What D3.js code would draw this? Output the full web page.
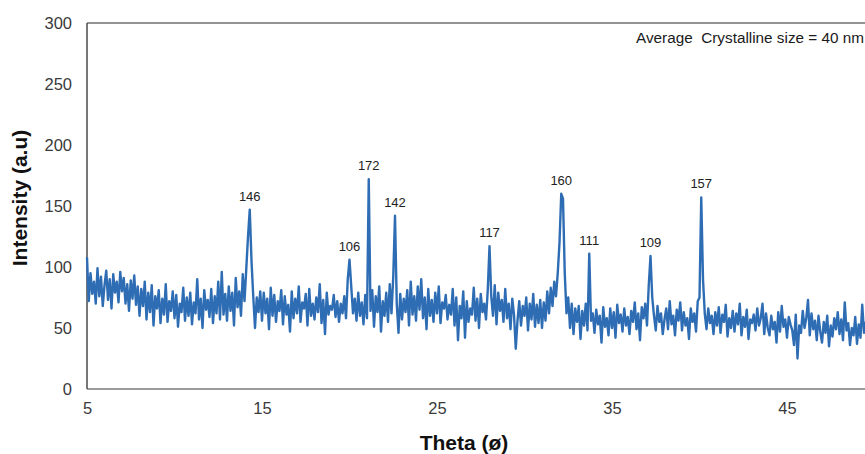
<!DOCTYPE html>
<html>
<head>
<meta charset="utf-8">
<script src="https://cdn.jsdelivr.net/npm/d3@7"></script>
<style>
  html, body { margin: 0; padding: 0; background: #fff; }
  svg { display: block; }
  text { font-family: Arial, "Liberation Sans", sans-serif; }
</style>
</head>
<body>
<svg id="chart" width="865" height="454"></svg>
<script>
// ---- data ----
const thetaStart = 5.0;
const thetaStep = 0.1;
const intensity = [
  108, 72, 95, 78, 88, 70, 99, 76, 92, 68,
  85, 97, 73, 90, 66, 94, 79, 88, 71, 96,
  80, 91, 70, 86, 64, 89, 74, 93, 69, 84,
  60, 82, 68, 88, 57, 79, 63, 85, 52, 76,
  66, 81, 54, 74, 61, 86, 55, 72, 64, 80,
  58, 77, 51, 70, 63, 83, 56, 75, 60, 79,
  53, 71, 62, 90, 57, 74, 50, 81, 65, 73,
  59, 82, 54, 76, 62, 88, 57, 96, 61, 78,
  56, 84, 64, 79, 52, 91, 67, 80, 60, 94,
  72, 98, 125, 147, 105, 76, 50, 75, 63, 80,
  56, 79, 62, 74, 49, 83, 60, 77, 55, 72,
  64, 81, 53, 76, 61, 69, 47, 80, 58, 74,
  62, 84, 55, 71, 66, 78, 52, 82, 60, 70,
  57, 75, 63, 86, 54, 73, 45, 79, 61, 68,
  65, 77, 59, 72, 55, 70, 62, 76, 58, 90,
  106, 84, 62, 74, 56, 79, 60, 71, 53, 77,
  58, 172, 64, 81, 51, 76, 63, 84, 47, 72,
  60, 79, 55, 86, 62, 92, 142, 70, 46, 78,
  57, 74, 63, 81, 52, 88, 61, 76, 56, 84,
  65, 90, 58, 75, 49, 82, 60, 73, 55, 79,
  62, 84, 54, 71, 66, 77, 57, 69, 61, 82,
  52, 75, 40, 68, 58, 80, 42, 72, 55, 66,
  61, 83, 56, 74, 50, 78, 63, 70, 57, 81,
  117, 76, 60, 85, 53, 79, 64, 73, 55, 82,
  58, 70, 49, 74, 61, 33, 56, 72, 52, 68,
  60, 75, 48, 70, 57, 78, 51, 69, 54, 73,
  50, 71, 56, 80, 62, 83, 68, 88, 76, 95,
  120, 160, 156, 95, 62, 75, 50, 70, 45, 66,
  55, 68, 41, 64, 52, 70, 48, 111, 56, 62,
  46, 65, 53, 60, 38, 67, 51, 58, 44, 66,
  50, 63, 42, 69, 54, 61, 47, 66, 52, 59,
  45, 64, 55, 71, 49, 62, 40, 67, 58, 70,
  52, 85, 109, 75, 60, 48, 68, 55, 62, 45,
  57, 66, 49, 72, 53, 60, 44, 65, 56, 71,
  48, 63, 52, 58, 41, 66, 55, 62, 47, 72,
  75, 157, 90, 62, 49, 66, 54, 60, 45, 63,
  52, 67, 46, 61, 55, 69, 43, 58, 50, 64,
  47, 62, 53, 70, 44, 59, 51, 65, 41, 57,
  54, 61, 48, 66, 52, 58, 70, 45, 62, 50,
  44, 60, 49, 55, 38, 63, 47, 68, 51, 57,
  42, 59, 53, 48, 36, 61, 25, 52, 46, 64,
  50, 58, 73, 44, 62, 49, 56, 40, 60, 47,
  38, 55, 46, 60, 35, 52, 43, 58, 49, 63,
  45, 57, 40, 71, 48, 54, 36, 50, 44, 59,
  37, 53, 42, 69, 46, 55
];
const peakTheta = [14.3, 20.0, 21.1, 22.6, 28.0, 32.1, 33.7, 37.2, 40.1];
const peakLabels = ["146", "106", "172", "142", "117", "160", "111", "109", "157"];
const peakValues = [147, 106, 172, 142, 117, 160, 111, 109, 157];
const xTicks = [5, 15, 25, 35, 45];
const yTicks = [0, 50, 100, 150, 200, 250, 300];
const xTitle = "Theta (ø)";
const yTitle = "Intensity (a.u)";
const note = "Average  Crystalline size = 40 nm";

// ---- drawing ----
const svg = d3.select("#chart");
const mLeft = 87, mTop = 23, mBottom = 389, plotRight = 962;

const x = d3.scaleLinear().domain([5, 55]).range([mLeft, plotRight]);
const y = d3.scaleLinear().domain([0, 300]).range([mBottom, mTop]);

const data = intensity.map((v, i) => ({ t: thetaStart + i * thetaStep, v }));

// plot frame
svg.append("line").attr("x1", mLeft).attr("x2", 865).attr("y1", mTop).attr("y2", mTop)
  .attr("stroke", "#6f6f6f").attr("stroke-width", 1.6);
svg.append("line").attr("x1", mLeft).attr("x2", 865).attr("y1", mBottom).attr("y2", mBottom)
  .attr("stroke", "#7a7a7a").attr("stroke-width", 1.6);
svg.append("line").attr("x1", mLeft).attr("x2", mLeft).attr("y1", mTop).attr("y2", mBottom)
  .attr("stroke", "#555").attr("stroke-width", 1.6);

// axes (labels only, Excel-like: no tick marks)
const yAxis = d3.axisLeft(y).tickValues(yTicks).tickSize(0).tickPadding(15);
const gy = svg.append("g").attr("transform", `translate(${mLeft},0)`).call(yAxis);
gy.select(".domain").remove();
gy.selectAll("text").attr("font-size", 16.5).attr("fill", "#3a3a3a")
  .attr("font-family", "Arial, 'Liberation Sans', sans-serif");

const xAxis = d3.axisBottom(x).tickValues(xTicks).tickSize(0).tickPadding(13);
const gx = svg.append("g").attr("transform", `translate(0,${mBottom})`).call(xAxis);
gx.select(".domain").remove();
gx.selectAll("text").attr("font-size", 16.5).attr("fill", "#3a3a3a")
  .attr("font-family", "Arial, 'Liberation Sans', sans-serif");

// series
const line = d3.line().x(d => x(d.t)).y(d => y(d.v));
svg.append("path").datum(data)
  .attr("d", line)
  .attr("fill", "none")
  .attr("stroke", "#2E6DB4")
  .attr("stroke-width", 2.4)
  .attr("stroke-linejoin", "round");

// peak labels
svg.append("g").selectAll("text").data(peakTheta).join("text")
  .attr("x", d => x(d))
  .attr("y", (d, i) => y(peakValues[i]) - 9)
  .attr("text-anchor", "middle")
  .attr("font-size", 13)
  .attr("fill", "#222")
  .text((d, i) => peakLabels[i]);

// annotation
svg.append("text").attr("x", 636).attr("y", 43)
  .style("white-space", "pre")
  .attr("font-size", 15.3).attr("fill", "#1a1a1a").text(note);

// axis titles
svg.append("text").attr("x", 464).attr("y", 450)
  .attr("text-anchor", "middle").attr("font-size", 21).attr("font-weight", "bold")
  .attr("fill", "#111").text(xTitle);
svg.append("text")
  .attr("transform", "translate(27,198) rotate(-90)")
  .attr("text-anchor", "middle").attr("font-size", 21).attr("font-weight", "bold")
  .attr("fill", "#111").text(yTitle);
</script>
</body>
</html>
